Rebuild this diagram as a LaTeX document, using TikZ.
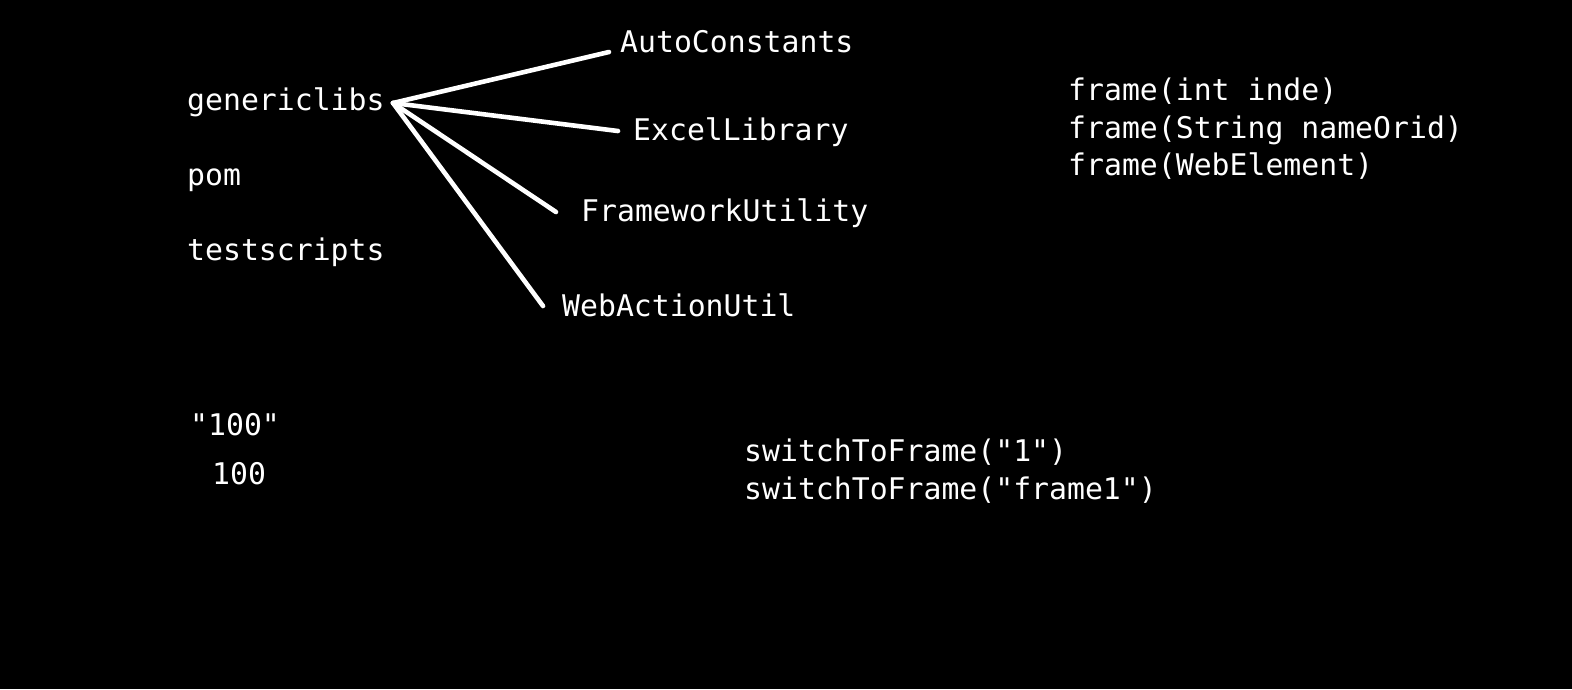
\documentclass[tikz,border=0pt]{standalone}
\usepackage{fontspec}
\newfontfamily\codefont{DejaVu Sans Mono}
\begin{document}
\begin{tikzpicture}[x=1pt,y=-1pt,
  lbl/.style={anchor=base west,inner sep=0pt,text=white,font=\codefont\fontsize{29.8}{37.5}\selectfont},
  link/.style={draw=white,line width=4.6pt,line cap=round}]
\fill[black] (0,0) rectangle (1572,689);
\useasboundingbox (0,0) rectangle (1572,689);
% left column
\node[lbl] (gl) at (187,110) {genericlibs};
\node[lbl] (pom) at (187,185) {pom};
\node[lbl] (ts) at (187,260) {testscripts};
% children
\node[lbl] (ac) at (620,52) {AutoConstants};
\node[lbl] (el) at (633,140) {ExcelLibrary};
\node[lbl] (fu) at (581,221) {FrameworkUtility};
\node[lbl] (wa) at (562,316) {WebActionUtil};
% frame methods
\node[lbl] (f1) at (1068,100) {frame(int inde)};
\node[lbl] (f2) at (1068,138) {frame(String nameOrid)};
\node[lbl] (f3) at (1068,175) {frame(WebElement)};
% numbers
\node[lbl] (s100) at (190,435) {"100"};
\node[lbl] (n100) at (212,484) {100};
% switch
\node[lbl] (sw1) at (744,461) {switchToFrame("1")};
\node[lbl] (sw2) at (744,499) {switchToFrame("frame1")};
% connectors
\coordinate (hub) at (393,103);
\coordinate (acEnd) at (609,52);
\coordinate (elEnd) at (618,131);
\coordinate (fuEnd) at (556,212);
\coordinate (waEnd) at (543,306);
\draw[link] (hub) -- (acEnd);
\draw[link] (hub) -- (elEnd);
\draw[link] (hub) -- (fuEnd);
\draw[link] (hub) -- (waEnd);
\end{tikzpicture}
\end{document}
